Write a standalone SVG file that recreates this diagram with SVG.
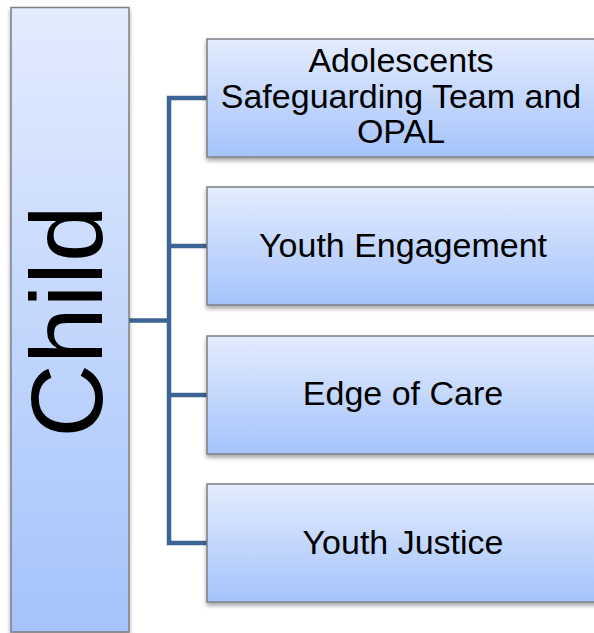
<svg xmlns="http://www.w3.org/2000/svg" width="594" height="633" viewBox="0 0 594 633">
<defs>
<linearGradient id="g" x1="0" y1="0" x2="0" y2="1">
<stop offset="0" stop-color="#e3ecfe"/>
<stop offset="1" stop-color="#a5c3fb"/>
</linearGradient>
<filter id="sh" x="-5%" y="-5%" width="110%" height="115%">
<feDropShadow dx="0" dy="3" stdDeviation="2" flood-color="#000" flood-opacity="0.35"/>
</filter>
</defs>
<style>
.box{fill:url(#g);stroke:#7c7f85;stroke-width:1.5;filter:url(#sh)}
.t{font-family:"Liberation Sans",Arial,sans-serif;font-size:34px;fill:#000;text-anchor:middle}
.c{fill:none;stroke:#3c6594;stroke-width:4.5;stroke-linejoin:miter}
</style>
<g id="connectors">
<path class="c" d="M207,98 H169 V543 H207"/>
<path class="c" d="M169,246 H207"/>
<path class="c" d="M169,395 H207"/>
<path class="c" d="M129,320.5 H169"/>
</g>
<g id="child">
<rect class="box" x="11" y="7.5" width="118" height="624.5"/>
<text class="t" style="font-size:102px" transform="translate(101.5,321.5) rotate(-90)" x="0" y="0">Child</text>
</g>
<g id="n1">
<rect class="box" x="207" y="39" width="392" height="118"/>
<text class="t" x="401" y="72">Adolescents</text>
<text class="t" x="401" y="107.5">Safeguarding Team and</text>
<text class="t" x="401" y="143">OPAL</text>
</g>
<g id="n2">
<rect class="box" x="207" y="187" width="392" height="118"/>
<text class="t" x="403" y="257">Youth Engagement</text>
</g>
<g id="n3">
<rect class="box" x="207" y="336" width="392" height="118"/>
<text class="t" x="403" y="405">Edge of Care</text>
</g>
<g id="n4">
<rect class="box" x="207" y="484" width="392" height="118"/>
<text class="t" x="403" y="554">Youth Justice</text>
</g>
</svg>
